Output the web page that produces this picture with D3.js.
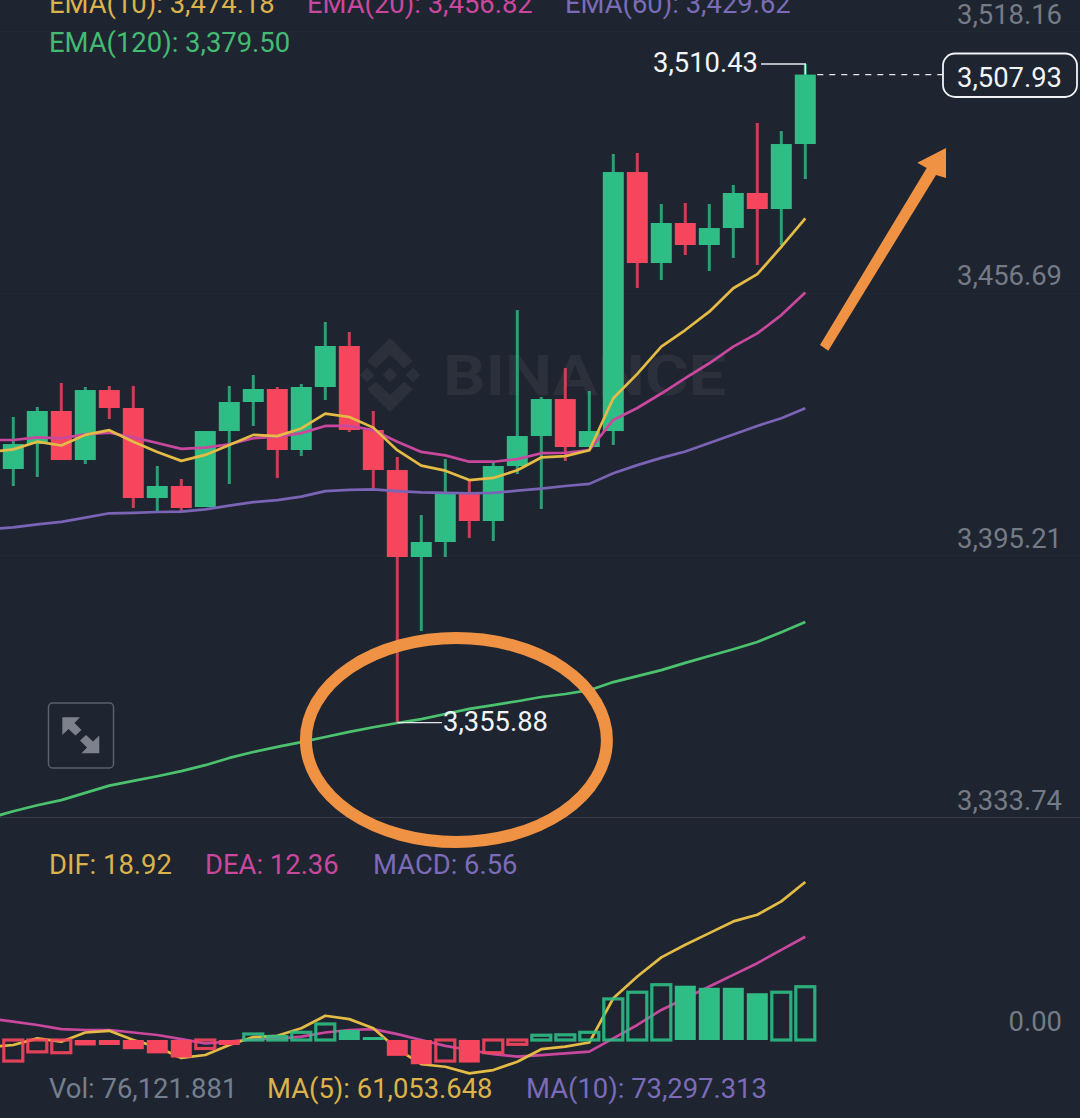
<!DOCTYPE html>
<html><head><meta charset="utf-8">
<script src="https://cdn.jsdelivr.net/npm/d3@7/dist/d3.min.js"></script>
<style>html,body{margin:0;padding:0;background:#1e2530;overflow:hidden}svg{display:block}text{font-family:Roboto,sans-serif}</style>
</head><body><div id="c"></div>
<script>
const opens=[3415.39,3421.25,3429.00,3417.50,3433.92,3429.70,3408.58,3411.40,3406.47,3424.30,3431.11,3434.16,3419.85,3434.63,3444.25,3424.54,3415.15,3394.74,3398.26,3409.52,3403.19,3416.09,3423.13,3431.81,3420.55,3424.30,3485.07,3463.72,3473.11,3467.95,3471.93,3480.15,3476.39,3491.64];
const closes=[3421.25,3429.00,3417.50,3433.92,3429.70,3408.58,3411.40,3406.24,3424.30,3431.11,3434.16,3419.85,3434.63,3444.25,3424.54,3415.15,3394.74,3398.26,3409.52,3403.19,3416.09,3423.13,3431.81,3420.55,3424.30,3485.07,3463.72,3473.11,3467.95,3471.93,3480.15,3476.39,3491.64,3507.93];
const highs=[3427.59,3429.94,3435.57,3434.63,3434.86,3434.86,3416.09,3413.04,3424.30,3434.86,3437.44,3434.63,3435.33,3449.88,3447.53,3429.00,3418.20,3404.60,3417.73,3412.81,3417.27,3452.69,3432.28,3439.09,3433.69,3489.30,3489.53,3477.57,3477.80,3477.57,3482.02,3496.57,3494.69,3510.43];
const lows=[3411.40,3413.51,3417.50,3416.56,3427.12,3406.24,3405.53,3405.53,3406.47,3411.87,3425.48,3413.28,3418.44,3431.58,3424.07,3410.93,3355.88,3377.38,3394.74,3399.20,3398.49,3414.21,3406.00,3417.27,3420.55,3421.02,3457.86,3459.73,3465.60,3461.84,3464.90,3463.25,3467.95,3483.43];
// Indicator series begin one candle left of the visible frame (index -1)
const ema10=[3419.4,3420.0,3421.8,3420.9,3423.4,3424.5,3421.8,3419.4,3417.3,3418.7,3421.0,3423.4,3423.1,3424.9,3428.4,3427.6,3425.1,3419.8,3416.2,3415.0,3412.8,3413.3,3415.1,3418.1,3418.4,3419.8,3432.0,3437.7,3444.1,3448.0,3452.3,3457.8,3461.1,3467.5,3474.18];
const ema20=[3422.2,3422.2,3422.8,3422.6,3423.5,3423.9,3422.8,3421.5,3420.1,3420.4,3421.2,3422.6,3423.0,3423.8,3425.5,3425.5,3424.5,3421.8,3419.4,3418.6,3417.1,3417.1,3417.7,3419.1,3419.2,3419.8,3426.9,3429.7,3433.1,3436.7,3440.2,3444.1,3447.2,3451.5,3456.82];
const ema60=[3401.3,3401.7,3402.4,3403.0,3404.0,3405.0,3405.1,3405.3,3405.4,3405.9,3406.8,3407.6,3408.1,3408.9,3410.2,3410.5,3410.6,3410.2,3409.9,3409.8,3409.7,3409.8,3410.3,3410.8,3411.4,3411.9,3414.4,3416.3,3418.0,3419.5,3421.5,3423.5,3425.5,3427.3,3429.62];
const ema120=[3333.5,3335.1,3336.5,3337.7,3339.4,3341.1,3342.2,3343.3,3344.5,3345.9,3347.6,3349.0,3350.2,3351.3,3352.5,3353.7,3354.8,3355.8,3356.7,3357.9,3359.1,3360.0,3360.9,3361.9,3362.6,3363.5,3365.4,3366.8,3368.2,3369.9,3371.5,3373.1,3374.8,3377.1,3379.50];
const dif=[-0.85,-0.6,0.2,-0.2,0.9,1.1,0,-0.85,-2.15,-1.8,-0.6,0.35,0.5,1.4,2.9,2.5,1.4,-1.1,-2.9,-3.2,-4.0,-3.6,-2.6,-1.1,-0.8,-0.3,5.0,7.6,9.9,11.4,12.8,14.2,15.0,16.6,18.92];
const dea=[2.6,2.2,1.8,1.3,1.2,1.2,0.9,0.6,0.1,-0.4,-0.2,0.1,0.15,0.4,0.9,1.2,1.3,0.7,0.0,-0.7,-1.2,-1.7,-2.0,-1.8,-1.6,-1.4,0.2,1.8,3.6,5.0,6.4,7.8,9.2,10.8,12.36];
const macd=[-3.6,-2.7,-1.6,-1.7,-0.65,-0.6,-1.1,-1.6,-2.1,-1.2,-0.6,0.9,0.6,1.1,2.1,1.2,0.35,-1.9,-2.9,-2.7,-2.7,-1.7,-0.7,0.75,0.8,1.1,5.1,5.9,6.8,6.5,6.25,6.25,5.6,5.9,6.56];
const macdHollow=[0,1,1,1,0,0,0,0,0,1,0,1,1,1,1,0,0,0,0,1,0,1,1,1,1,1,1,1,1,0,0,0,0,1,1];
const priceTicks=[3518.16,3456.69,3395.21,3333.74];
const lastPrice=3507.93, highPrice=3510.43, lowPrice=3355.88;
const legendMain=[["EMA(10): 3,474.18",49,12.5,"#dcb24a"],["EMA(20): 3,456.82",307,12.5,"#c9489e"],["EMA(60): 3,429.62",565,12.5,"#7b6bb8"],["EMA(120): 3,379.50",49,52,"#44bb72"]];
const legendMacd=[["DIF: 18.92",49,874,"#dcb24a"],["DEA: 12.36",205,874,"#c9489e"],["MACD: 6.56",373,874,"#7b6bb8"]];
const legendVol=[["Vol: 76,121.881",49,1098,"#747f8e"],["MA(5): 61,053.648",267,1098,"#dcb24a"],["MA(10): 73,297.313",526,1098,"#7b6bb8"]];

const W=1080,H=1118,BG="#1e2530",GREEN="#2ebd85",RED="#f6465d",ORANGE="#f09243",FS=27.4;
const svg=d3.select("#c").append("svg").attr("width",W).attr("height",H);
svg.append("rect").attr("width",W).attr("height",H).attr("fill",BG);
const x=d3.scaleLinear().domain([0,33]).range([13.3,805.3]);
const y=d3.scaleLinear().domain([3333.74,3518.16]).range([817,31]);
const yM=d3.scaleLinear().domain([0,18.92]).range([1040,882]);

function axisLabels(g){
  g.select(".domain").remove();
  g.selectAll("line").remove();
  g.selectAll("text").attr("x",0).attr("dy",null).attr("y",-8).attr("text-anchor","end")
   .attr("fill","#757b86").attr("font-size",FS).attr("font-family","Roboto,sans-serif");
}
const grid=svg.append("g").call(d3.axisRight(y).tickValues(priceTicks).tickSize(W).tickFormat(""));
grid.select(".domain").remove();
grid.selectAll("line").attr("stroke","#232933").attr("stroke-width",1);
grid.selectAll(".tick").filter(d=>d===3333.74).select("line").attr("stroke","#363b46");
svg.append("g").attr("transform","translate(1062,0)")
  .call(d3.axisRight(y).tickValues(priceTicks).tickFormat(d3.format(",.2f"))).call(axisLabels);
svg.append("g").attr("transform","translate(1062,0)")
  .call(d3.axisRight(yM).tickValues([0]).tickFormat(d3.format(".2f"))).call(axisLabels)
  .selectAll("text").attr("y",-10);

const wm=svg.append("g").attr("fill","#2b303b");
const cx=390,cy=375,r=37;
const lg=(pts)=>wm.append("polygon").attr("points",pts.map(p=>[cx+p[0]*r,cy+p[1]*r].join(",")).join(" "));
lg([[0,-.2],[.2,0],[0,.2],[-.2,0]]);
lg([[.62,-.2],[.82,0],[.62,.2],[.42,0]]);
lg([[-.62,-.2],[-.42,0],[-.62,.2],[-.82,0]]);
lg([[0,-1],[.62,-.38],[.38,-.18],[0,-.54],[-.38,-.18],[-.62,-.38]]);
lg([[0,1],[.62,.38],[.38,.18],[0,.54],[-.38,.18],[-.62,.38]]);
wm.append("text").text("BINANCE").attr("x",443).attr("y",395).attr("font-size",55).attr("font-weight",700)
  .attr("textLength",283).attr("lengthAdjust","spacingAndGlyphs").attr("font-family","Roboto,sans-serif");

const idx=d3.range(opens.length);
const col=i=>closes[i]>=opens[i]?GREEN:RED;
const candles=svg.append("g");
candles.selectAll(".w").data(idx).join("line").attr("class","w")
  .attr("x1",i=>x(i)).attr("x2",i=>x(i)).attr("y1",i=>y(highs[i])).attr("y2",i=>y(lows[i]))
  .attr("stroke",col).attr("stroke-width",3).attr("stroke-opacity",.8);
candles.selectAll(".b").data(idx).join("rect").attr("class","b")
  .attr("x",i=>x(i)-10.5).attr("width",21)
  .attr("y",i=>y(Math.max(opens[i],closes[i])))
  .attr("height",i=>Math.abs(y(opens[i])-y(closes[i])))
  .attr("fill",col);

const line=(ys)=>d3.line().x((d,i)=>x(i-1)).y(d=>ys(d));
[[ema120,"#4cc26f"],[ema60,"#7b63b5"],[ema20,"#c9489e"],[ema10,"#e4bb45"]].forEach(([s,c])=>{
  svg.append("path").attr("d",line(y)(s)).attr("fill","none").attr("stroke",c).attr("stroke-width",2.7).attr("stroke-linejoin","round");
});

const iLast=closes.length-1;
svg.append("line").attr("x1",x(iLast)+12).attr("x2",943).attr("y1",y(lastPrice)).attr("y2",y(lastPrice))
  .attr("stroke","#e6e8ec").attr("stroke-width",1.4).attr("stroke-dasharray","6 6");
svg.append("rect").attr("x",943).attr("y",53.5).attr("width",134).attr("height",43.5).attr("rx",12)
  .attr("fill",BG).attr("stroke","#f0f2f5").attr("stroke-width",1.8);
const white=(t,xp,yp,a)=>svg.append("text").text(t).attr("x",xp).attr("y",yp).attr("text-anchor",a||"start")
  .attr("fill","#f2f4f7").attr("font-size",FS);
white(d3.format(",.2f")(lastPrice),1062,86.5,"end");
white(d3.format(",.2f")(highPrice),653,72);
white(d3.format(",.2f")(lowPrice),443,731);
const iHigh=iLast, iLow=lows.indexOf(lowPrice);
svg.append("polyline").attr("points",[[761,y(highPrice)],[x(iHigh),y(highPrice)],[x(iHigh),y(lastPrice)]].join(" "))
  .attr("fill","none").attr("stroke","#e6e8ec").attr("stroke-width",1.4);
svg.append("line").attr("x1",x(iLow)).attr("x2",442).attr("y1",y(lowPrice)).attr("y2",y(lowPrice))
  .attr("stroke","#e6e8ec").attr("stroke-width",1.4);

[[dea,"#c9489e"],[dif,"#e4bb45"]].forEach(([s,c])=>{
  svg.append("path").attr("d",line(yM)(s)).attr("fill","none").attr("stroke",c).attr("stroke-width",2.7).attr("stroke-linejoin","round");
});
const mCol=i=>macd[i]>=0?GREEN:RED;
svg.append("g").selectAll("rect").data(d3.range(macd.length)).join("rect")
  .attr("x",i=>x(i-1)-(macdHollow[i]?9.5:10.5))
  .attr("width",i=>macdHollow[i]?19:21)
  .attr("y",i=>Math.min(yM(macd[i]),yM(0))+(macdHollow[i]&&macd[i]>=0?1.5:0))
  .attr("height",i=>Math.abs(yM(macd[i])-yM(0))-(macdHollow[i]?1.5:0))
  .attr("fill",i=>macdHollow[i]?"none":mCol(i))
  .attr("stroke",i=>macdHollow[i]?mCol(i):"none")
  .attr("stroke-width",3.2).attr("stroke-opacity",.9);

svg.append("g").selectAll("text").data(legendMain.concat(legendMacd,legendVol)).join("text")
  .text(d=>d[0]).attr("x",d=>d[1]).attr("y",d=>d[2]).attr("fill",d=>d[3]).attr("font-size",FS);

const btn=svg.append("g");
btn.append("rect").attr("x",48.5).attr("y",703).attr("width",65).attr("height",65).attr("rx",4)
  .attr("fill","none").attr("stroke","#5a606c").attr("stroke-width",1.5);
btn.append("polygon").attr("points","62.3,717.3 80,717.3 74.5,723 81.5,730 75.5,735.5 68.5,729 62.3,735").attr("fill","#7c818b");
btn.append("polygon").attr("points","99.3,753.3 81.5,753.3 87,747.5 80,740.5 86,735 93,741.5 99.3,735.5").attr("fill","#7c818b");

svg.append("ellipse").attr("cx",456.4).attr("cy",740).attr("rx",150.5).attr("ry",102)
  .attr("fill","none").attr("stroke",ORANGE).attr("stroke-width",12);
svg.append("polygon").attr("fill",ORANGE)
  .attr("points","820,345 926.7,168 917.3,162.7 946,148 946,178 936,175 828.3,350.7");
</script></body></html>
